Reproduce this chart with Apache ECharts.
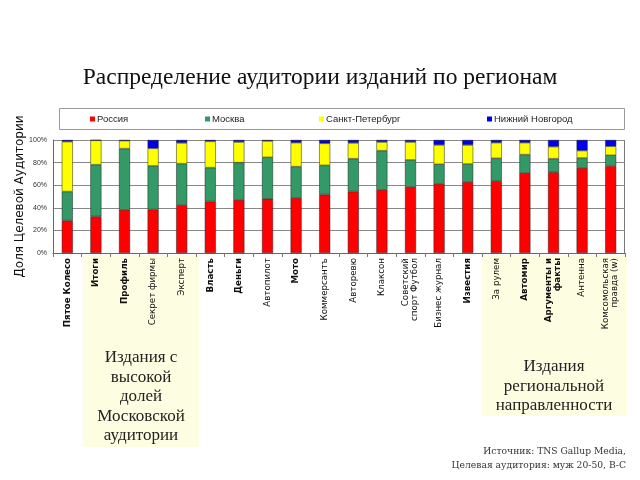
<!DOCTYPE html>
<html><head><meta charset="utf-8">
<script src="https://cdn.jsdelivr.net/npm/echarts@6/dist/echarts.min.js"></script>
<style>html,body{margin:0;padding:0;background:#fff}#c{width:640px;height:480px}</style>
</head><body><div id="c"></div>
<script>
const categories = ['Пятое Колесо','Итоги','Профиль','Секрет фирмы','Эксперт','Власть','Деньги','Автопилот','Мото','Коммерсантъ','Авторевю','Клаксон','Советский\nспорт Футбол','Бизнес журнал','Известия','За рулем','Автомир','Аргументы и\nфакты','Антенна','Комсомольская\nправда (w)'];
const russia = [28.8,32.4,38.2,38.5,42.4,45.6,47.0,48.0,48.8,51.8,54.4,55.9,58.5,61.2,62.9,63.5,70.9,71.5,75.3,77.1];
const moscow = [25.6,45.8,54.2,38.6,36.7,30.0,33.0,36.7,27.7,25.8,29.1,34.7,23.9,17.3,15.9,20.3,16.2,12.0,8.8,9.4];
const spb = [44.1,21.5,7.0,15.5,18.3,23.2,18.2,14.4,21.1,19.4,13.9,7.6,15.8,17.1,16.8,13.8,10.5,10.6,6.5,7.9];
const nnov = [1.5,0.3,0.6,7.4,2.6,1.2,1.8,0.9,2.4,3.0,2.6,1.8,1.8,4.4,4.4,2.4,2.4,5.9,9.4,5.6];
const seriesNames = ['Россия','Москва','Санкт-Петербург','Нижний Новгород'];
const yTicks = [0,20,40,60,80,100];

const colors = ['#ff0000','#339966','#ffff00','#0000ee'];
const boldCats = new Set(['Пятое Колесо','Итоги','Профиль','Власть','Деньги','Мото','Известия','Автомир','Аргументы и\nфакты']);
const chart = echarts.init(document.getElementById('c'), null, {renderer:'canvas'});
const values = [russia, moscow, spb, nnov];
const legendLefts = [90, 205, 319, 487];

chart.setOption({
  animation: false,
  title: {
    text: 'Распределение аудитории изданий по регионам',
    left: 'center', top: 61,
    textStyle: {fontFamily: 'Liberation Serif', fontSize: 23.5, fontWeight: 'normal', color: '#111'}
  },
  legend: seriesNames.map((n, i) => ({
    data: [n], left: legendLefts[i], top: 114, padding: 0,
    icon: 'rect', itemWidth: 5, itemHeight: 5, itemGap: 3,
    itemStyle: {borderWidth: 0},
    textStyle: {fontFamily: 'Liberation Sans', fontSize: 9.5, color: '#222', padding: [0,0,0,-3]}
  })),
  grid: {left: 53, right: 15, top: 140, bottom: 227, containLabel: false},
  xAxis: {
    type: 'category', data: categories.map(c => ({value: c, textStyle: {fontWeight: boldCats.has(c) ? 'bold' : 'normal'}})),
    axisLine: {show: true, lineStyle: {color: '#666', width: 1}},
    axisTick: {show: true, alignWithLabel: false, length: 4, lineStyle: {color: '#777'}},
    axisLabel: {rotate: 90, interval: 0, margin: 5, fontFamily: 'DejaVu Sans', fontSize: 8.7, color: '#111', lineHeight: 9},
    splitLine: {show: false}
  },
  yAxis: {
    type: 'value', min: 0, max: 100, interval: 20,
    name: 'Доля Целевой Аудитории', nameLocation: 'middle', nameGap: 27, nameMoveOverlap: false,
    nameTextStyle: {fontFamily: 'DejaVu Sans', fontSize: 12, color: '#111'},
    axisLine: {show: true, lineStyle: {color: '#666'}},
    axisTick: {show: false},
    axisLabel: {formatter: '{value}%', fontFamily: 'Liberation Sans', fontSize: 7, color: '#333', margin: 6},
    splitLine: {show: true, lineStyle: {color: '#888', width: 1}}
  },
  series: seriesNames.map((n, i) => ({
    name: n, type: 'bar', stack: 'total', data: values[i], barWidth: 11,
    itemStyle: {color: colors[i], borderColor: '#222', borderWidth: 0.5}
  })),
  graphic: [
    {type: 'rect', z: -10, shape: {x: 83, y: 255, width: 116, height: 192}, style: {fill: '#fdfde2'}},
    {type: 'rect', z: -10, shape: {x: 482, y: 255, width: 145, height: 161}, style: {fill: '#fdfde2'}},
    {type: 'rect', z: -10, shape: {x: 624.5, y: 140, width: 0, height: 113}, style: {stroke: '#777', lineWidth: 1}},
    {type: 'rect', z: 1, shape: {x: 59.5, y: 108.5, width: 565, height: 21}, style: {fill: 'none', stroke: '#999', lineWidth: 1}},
    {type: 'text', z: 5, style: {x: 141, y: 348, text: 'Издания с\nвысокой\nдолей\nМосковской\nаудитории', textAlign: 'center', fontFamily: 'Liberation Serif', fontSize: 17, lineHeight: 19.5, fill: '#222'}},
    {type: 'text', z: 5, style: {x: 554, y: 357, text: 'Издания\nрегиональной\nнаправленности', textAlign: 'center', fontFamily: 'Liberation Serif', fontSize: 17, lineHeight: 19.5, fill: '#222'}},
    {type: 'text', z: 5, style: {x: 626, y: 445, text: 'Источник: TNS Gallup Media,\nЦелевая аудитория: муж 20-50, B-C', textAlign: 'right', fontFamily: 'DejaVu Serif', fontSize: 9.2, lineHeight: 14, fill: '#333'}}
  ]
});
</script></body></html>
